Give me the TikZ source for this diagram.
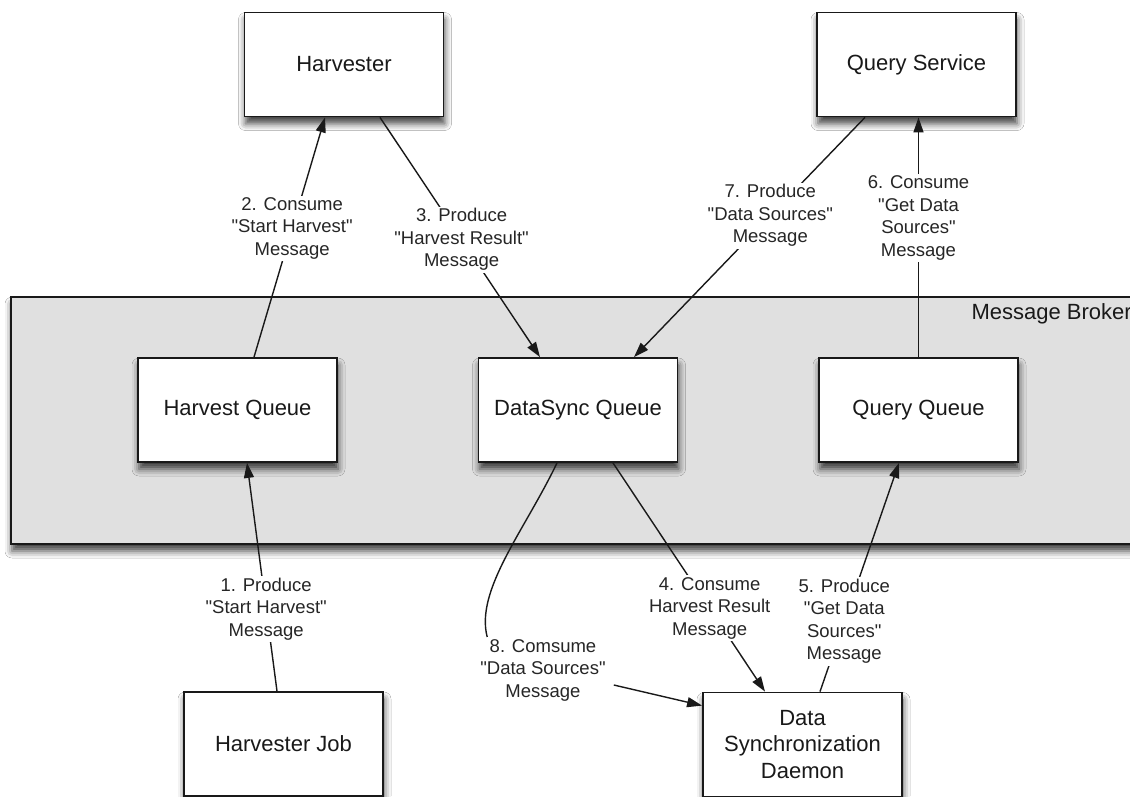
\documentclass[tikz,border=0pt]{standalone}
\usepackage{fontspec}
\setmainfont{Liberation Sans}[Ligatures=TeXOff]
\usetikzlibrary{arrows.meta,shadows.blur,calc}
\begin{document}
\begin{tikzpicture}[x=1pt,y=1pt,
  shd/.style={blur shadow={shadow xshift=1pt, shadow yshift=-7pt, shadow blur radius=7pt, shadow opacity=75}},
  box/.style={shd, draw=black!90, line width=1.8pt, fill=white, minimum width=199pt, minimum height=104pt, align=center, font=\fontsize{22}{26.5}\selectfont, text=black!90},
  broker/.style={shd, draw=black!90, line width=1.8pt, fill=black!12},
  conn/.style={line width=1.4pt, draw=black!90},
  arr/.style={conn, -{Triangle[length=15pt,width=10pt]}},
  lbl/.style={fill=white, align=center, inner sep=2pt, font=\fontsize{18.5}{22.5}\selectfont, text=black!85}
]
\useasboundingbox (0,-796) rectangle (1130,0);
\clip (0,-796) rectangle (1130,0);
\fill[white] (0,-796) rectangle (1130,0);

% broker
\node[broker, minimum width=1134pt, minimum height=247pt] (brk) at (578,-420.5) {};
\node[anchor=east, font=\fontsize{22}{26.5}\selectfont, text=black!90, inner sep=0pt] (mbl) at (1132,-314) {Message Broker};

% boxes
\node[box] (hv)  at (344,-64.5)   {Harvester};
\node[box] (qs)  at (916.5,-64.5) {Query Service};
\node[box] (hq)  at (237.5,-410)  {Harvest Queue};
\node[box] (dsq) at (578,-410)    {DataSync Queue};
\node[box] (qq)  at (918.5,-410)  {Query Queue};
\node[box] (hj)  at (283.5,-744)  {Harvester Job};
\node[box] (dm)  at (802.5,-744.5) {Data\\Synchronization\\Daemon};

% connectors
\draw[arr] ([xshift=-6.5pt]hj.north) -- node[lbl,pos=0.36]{1. Produce\\"Start Harvest"\\Message} ([xshift=9.5pt]hq.south);
\draw[arr] ([xshift=16.5pt]hq.north) -- node[lbl,pos=0.537]{2. Consume\\"Start Harvest"\\Message} ([xshift=-19pt]hv.south);
\draw[arr] ([xshift=36pt]hv.south) -- node[lbl,pos=0.51]{3. Produce\\"Harvest Result"\\Message} ([xshift=-38pt]dsq.north);
\draw[arr] ([xshift=-51.5pt]qs.south) -- node[lbl,pos=0.41]{7. Produce\\"Data Sources"\\Message} ([xshift=56pt]dsq.north);
\draw[arr] (qq.north) -- node[lbl,pos=0.58]{6. Consume\\"Get Data\\Sources"\\Message} (qq.north |- qs.south);
\draw[arr] ([xshift=35pt]dsq.south) -- node[lbl,pos=0.636]{4. Consume\\Harvest Result\\Message} ([xshift=-37.5pt]dm.north);
\draw[arr] ([xshift=17.5pt]dm.north) -- node[lbl,pos=0.307]{5. Produce\\"Get Data\\Sources"\\Message} ([xshift=-19.5pt]qq.south);

\node[lbl] (l8) at (543,-670) {8. Comsume\\"Data Sources"\\Message};
\draw[conn] ([xshift=-21pt]dsq.south) .. controls (525,-530) and (475,-590) .. ([xshift=9pt]l8.north west);
\draw[arr] ([xshift=6pt,yshift=-15pt]l8.east) -- ([yshift=-14pt]dm.north west);
\end{tikzpicture}
\end{document}
